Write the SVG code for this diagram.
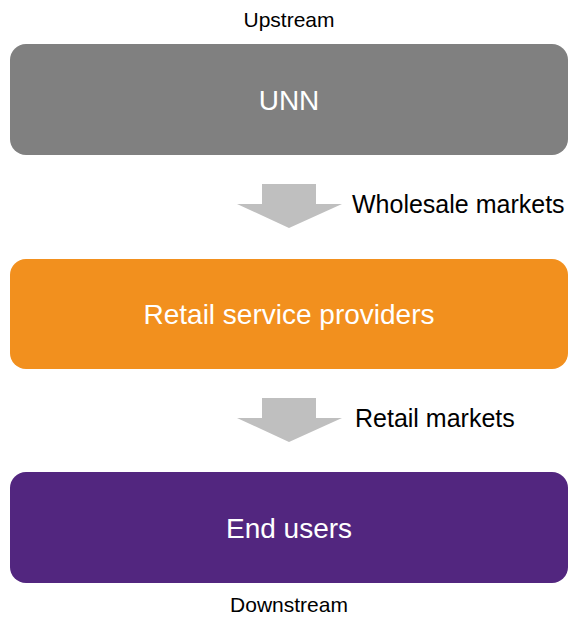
<svg xmlns="http://www.w3.org/2000/svg" width="574" height="619" viewBox="0 0 574 619">
  <style>
    .box { stroke: none; }
    .title { font-family: "Liberation Sans", Arial, sans-serif; font-size: 28px; fill: #ffffff; text-anchor: middle; }
    .label { font-family: "Liberation Sans", Arial, sans-serif; font-size: 25px; fill: #000000; }
    .edge { font-family: "Liberation Sans", Arial, sans-serif; font-size: 21px; fill: #000000; text-anchor: middle; }
    .flow { fill: #bfbfbf; }
  </style>
  <rect width="574" height="619" fill="#ffffff"/>

  <text class="edge" x="289" y="27">Upstream</text>

  <g id="unn">
    <rect class="box" x="10" y="44" width="558" height="111" rx="16" fill="#808080"/>
    <text class="title" x="289" y="110">UNN</text>
  </g>

  <g id="retail-service-providers">
    <rect class="box" x="10" y="259" width="558" height="110" rx="16" fill="#f2901e"/>
    <text class="title" x="289" y="324">Retail service providers</text>
  </g>

  <g id="end-users">
    <rect class="box" x="10" y="472" width="558" height="111" rx="16" fill="#52267f"/>
    <text class="title" x="289" y="538">End users</text>
  </g>

  <g id="connectors">
    <polygon class="flow" points="262,184 316,184 316,204 342,204 289,228 237,204 262,204"/>
    <text class="label" x="352" y="213">Wholesale markets</text>
    <polygon class="flow" points="262,398 316,398 316,418 342,418 289,442 237,418 262,418"/>
    <text class="label" x="355" y="427">Retail markets</text>
  </g>

  <text class="edge" x="289" y="612">Downstream</text>
</svg>
